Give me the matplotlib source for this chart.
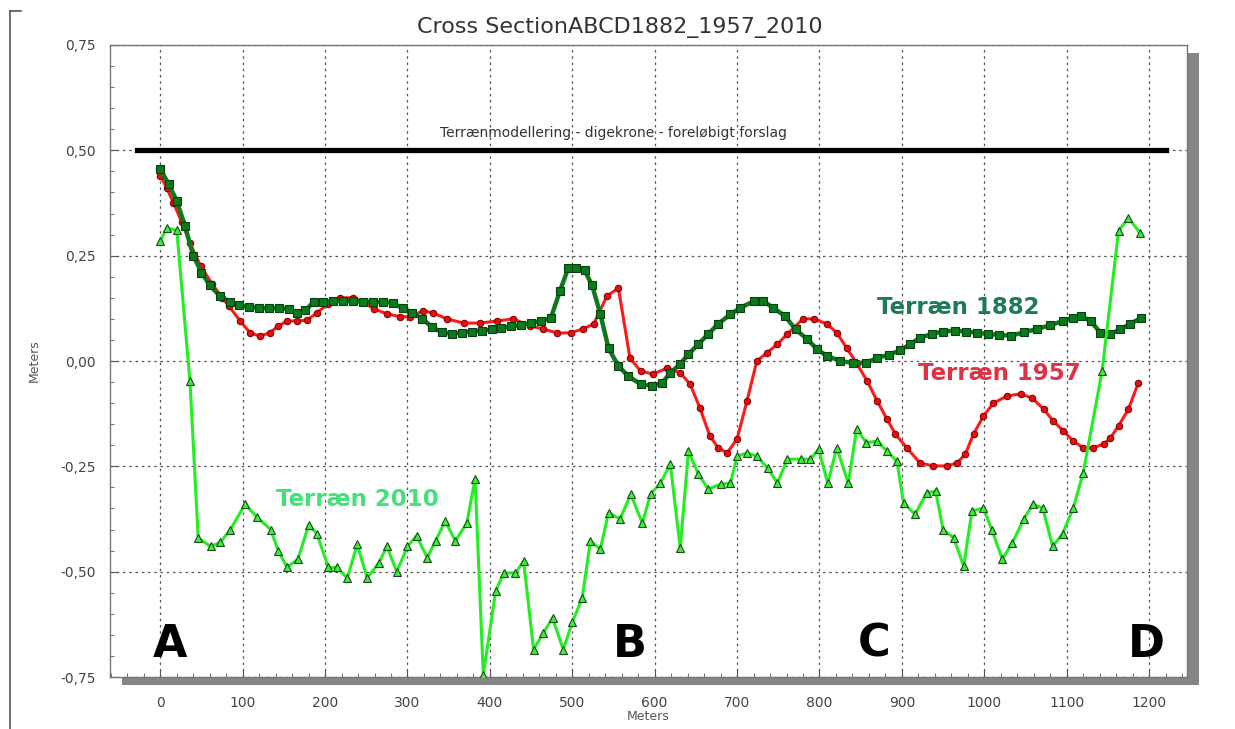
import matplotlib
matplotlib.use("Agg")
import matplotlib.pyplot as plt
from matplotlib.lines import Line2D
from matplotlib.patches import Rectangle
from matplotlib.ticker import MultipleLocator, FuncFormatter

# Terræn 1882 (dark green squares)
x_1882 = [0, 10, 20, 30, 40, 50, 60, 72, 84, 96,
          108, 120, 132, 144, 156, 166, 176, 186, 198, 210,
          222, 234, 246, 258, 270, 282, 294, 306, 318, 330,
          342, 354, 366, 378, 390, 402, 414, 426, 438, 450,
          462, 474, 485, 495, 505, 515, 524, 534, 544, 556,
          568, 583, 597, 609, 619, 631, 641, 653, 665, 677,
          692, 704, 720, 732, 744, 758, 771, 785, 797, 809,
          825, 841, 857, 870, 884, 898, 910, 922, 936, 950,
          964, 978, 991, 1005, 1018, 1032, 1048, 1064, 1080, 1096,
          1108, 1117, 1129, 1141, 1153, 1165, 1177, 1190]
y_1882 = [0.456, 0.42, 0.38, 0.32, 0.25, 0.21, 0.18, 0.155, 0.14, 0.132,
          0.128, 0.126, 0.125, 0.125, 0.124, 0.115, 0.12, 0.14, 0.14, 0.142,
          0.142, 0.142, 0.141, 0.14, 0.14, 0.138, 0.125, 0.115, 0.1, 0.08,
          0.068, 0.065, 0.067, 0.07, 0.072, 0.075, 0.078, 0.082, 0.086, 0.09,
          0.095, 0.102, 0.166, 0.22, 0.22, 0.215, 0.18, 0.112, 0.03, -0.012,
          -0.036, -0.055, -0.059, -0.052, -0.028, -0.007, 0.016, 0.04, 0.064, 0.088,
          0.111, 0.126, 0.142, 0.142, 0.126, 0.107, 0.075, 0.052, 0.028, 0.012,
          0.0, -0.005, -0.004, 0.007, 0.015, 0.025, 0.04, 0.055, 0.064, 0.07,
          0.072, 0.07, 0.067, 0.064, 0.062, 0.06, 0.068, 0.076, 0.085, 0.095,
          0.103, 0.107, 0.095, 0.067, 0.064, 0.075, 0.088, 0.102]

# Terræn 1957 (red circles)
x_1957 = [0, 8, 16, 26, 36, 49, 63, 75, 83, 97,
          109, 121, 133, 143, 154, 166, 178, 190, 203, 218,
          234, 246, 259, 275, 291, 303, 319, 331, 348, 368,
          388, 409, 428, 449, 465, 482, 498, 513, 526, 542,
          556, 570, 583, 598, 615, 631, 643, 655, 667, 677,
          688, 700, 712, 724, 736, 749, 761, 780, 793, 809,
          821, 833, 845, 858, 870, 882, 892, 906, 922, 938,
          955, 967, 977, 987, 999, 1011, 1028, 1044, 1058, 1072,
          1084, 1096, 1108, 1120, 1132, 1145, 1153, 1163, 1175, 1187]
y_1957 = [0.44, 0.41, 0.375, 0.33, 0.28, 0.225, 0.183, 0.15, 0.131, 0.095,
          0.067, 0.059, 0.067, 0.083, 0.095, 0.095, 0.097, 0.114, 0.135, 0.15,
          0.15, 0.14, 0.124, 0.112, 0.105, 0.105, 0.119, 0.114, 0.1, 0.09,
          0.09, 0.095, 0.1, 0.083, 0.076, 0.066, 0.067, 0.076, 0.088, 0.154,
          0.173, 0.007, -0.024, -0.031, -0.017, -0.028, -0.055, -0.112, -0.178, -0.206,
          -0.218, -0.185, -0.095, 0.0, 0.019, 0.04, 0.064, 0.1, 0.1, 0.088,
          0.067, 0.031, -0.005, -0.048, -0.095, -0.138, -0.173, -0.206, -0.242, -0.249,
          -0.249, -0.242, -0.221, -0.173, -0.131, -0.1, -0.083, -0.078, -0.088, -0.114,
          -0.143, -0.166, -0.19, -0.206, -0.206, -0.197, -0.183, -0.154, -0.114, -0.052]

# Terræn 2010 (light green triangles)
x_2010 = [0, 8, 20, 36, 46, 61, 73, 85, 103, 117,
          134, 143, 154, 167, 180, 190, 204, 214, 227, 239,
          251, 265, 275, 287, 300, 311, 324, 334, 346, 358,
          372, 382, 392, 407, 417, 431, 441, 453, 465, 476,
          489, 500, 512, 522, 534, 544, 558, 571, 585, 595,
          607, 619, 631, 641, 653, 665, 680, 692, 700, 712,
          724, 737, 749, 761, 777, 789, 799, 810, 821, 835,
          845, 857, 870, 882, 894, 902, 916, 930, 941, 950,
          963, 975, 985, 999, 1009, 1022, 1034, 1048, 1059, 1071,
          1083, 1095, 1108, 1120, 1143, 1163, 1175, 1189]
y_2010 = [0.285, 0.316, 0.31, -0.048, -0.42, -0.44, -0.43, -0.40, -0.34, -0.37,
          -0.40, -0.45, -0.49, -0.47, -0.39, -0.41, -0.49, -0.49, -0.515, -0.435,
          -0.515, -0.48, -0.44, -0.50, -0.44, -0.415, -0.467, -0.427, -0.38, -0.427,
          -0.385, -0.28, -0.745, -0.546, -0.503, -0.503, -0.475, -0.685, -0.645, -0.61,
          -0.685, -0.62, -0.563, -0.427, -0.447, -0.36, -0.375, -0.316, -0.385, -0.316,
          -0.29, -0.245, -0.444, -0.214, -0.268, -0.304, -0.292, -0.29, -0.226, -0.218,
          -0.226, -0.254, -0.29, -0.233, -0.233, -0.233, -0.209, -0.29, -0.206, -0.29,
          -0.162, -0.194, -0.19, -0.214, -0.238, -0.337, -0.364, -0.313, -0.309, -0.40,
          -0.42, -0.487, -0.356, -0.349, -0.40, -0.47, -0.432, -0.375, -0.34, -0.349,
          -0.44, -0.41, -0.349, -0.266, -0.024, 0.309, 0.34, 0.304]

# proposed dike crest
crest_x = [-28, 1220]
crest_y = [0.5, 0.5]
crest_label = "Terrænmodellering - digekrone - foreløbigt forslag"

section_letters = ["A", "B", "C", "D"]
section_x = [12, 570, 866, 1197]

fig = plt.figure(figsize=(12.35, 7.29), dpi=100)
ax = fig.add_axes([0.0891, 0.0713, 0.872, 0.867])
ax.set_zorder(2)

# drop shadow behind plot box
fig.add_artist(Rectangle((0.0891 + 0.0097, 0.0713 - 0.0105), 0.872, 0.867,
                         transform=fig.transFigure, facecolor="#858585",
                         edgecolor="none", zorder=1))
# left frame edge of the screenshot
fig.add_artist(Line2D([0.008, 0.008], [0.0, 0.985], transform=fig.transFigure,
                      color="#555555", lw=1.2))
fig.add_artist(Line2D([0.008, 0.017], [0.985, 0.985], transform=fig.transFigure,
                      color="#555555", lw=1.2))

ax.set_facecolor("white")
ax.set_xlim(-61, 1246)
ax.set_ylim(-0.75, 0.75)

ax.xaxis.set_major_locator(MultipleLocator(100))
ax.xaxis.set_minor_locator(MultipleLocator(20))
ax.yaxis.set_major_locator(MultipleLocator(0.25))
ax.yaxis.set_minor_locator(MultipleLocator(0.05))
ax.yaxis.set_major_formatter(FuncFormatter(lambda v, p: f"{v:.2f}".replace(".", ",")))

ax.tick_params(axis="both", which="both", direction="in", colors="#555555")
ax.tick_params(axis="both", which="major", length=5, labelsize=10, labelcolor="#444444")
ax.tick_params(axis="both", which="minor", length=3)
ax.tick_params(axis="x", which="major", pad=14)
ax.tick_params(axis="y", which="major", pad=10)

ax.grid(True, which="major", color="#555555", linestyle=(0, (2, 3)), linewidth=0.9)
for s in ax.spines.values():
    s.set_color("#777777")
    s.set_linewidth(1.0)

ax.plot(crest_x, crest_y, color="black", lw=3.8, zorder=3)
ax.text(550, 0.525, crest_label, ha="center", va="bottom", fontsize=10, color="#333333")

ax.plot(x_1957, y_1957, color="#ff1a1a", lw=2.2, marker="o", markersize=4.6,
        markerfacecolor="#e41010", markeredgecolor="#8a0000", markeredgewidth=0.8, zorder=4)
ax.plot(x_1882, y_1882, color="#0e7a1e", lw=3.2, marker="s", markersize=5.6,
        markerfacecolor="#0b7a1c", markeredgecolor="#064010", markeredgewidth=0.8, zorder=5)
ax.plot(x_2010, y_2010, color="#22ee22", lw=2.2, marker="^", markersize=5.6,
        markerfacecolor="#3bef3b", markeredgecolor="#1b4a1b", markeredgewidth=0.8, zorder=6)

ax.text(870, 0.126, "Terræn 1882", fontsize=16.5, fontweight="bold", color="#1e7b55",
        ha="left", va="center", zorder=7)
ax.text(919, -0.029, "Terræn 1957", fontsize=16.5, fontweight="bold", color="#e03246",
        ha="left", va="center", zorder=7)
ax.text(140, -0.328, "Terræn 2010", fontsize=16.5, fontweight="bold", color="#44e07a",
        ha="left", va="center", zorder=7)

for lab, xs in zip(section_letters, section_x):
    ax.text(xs, -0.672, lab, fontsize=32, fontweight="bold", color="black",
            ha="center", va="center", zorder=7)

fig.text(620 / 1235, 1 - 28 / 729, "Cross SectionABCD1882_1957_2010", fontsize=16,
         color="#333333", ha="center", va="center")
ax.set_xlabel("Meters", fontsize=9, color="#555555", labelpad=0)
ax.set_ylabel("Meters", fontsize=9, color="#555555", labelpad=14)

fig.savefig("out.png", dpi=100)
